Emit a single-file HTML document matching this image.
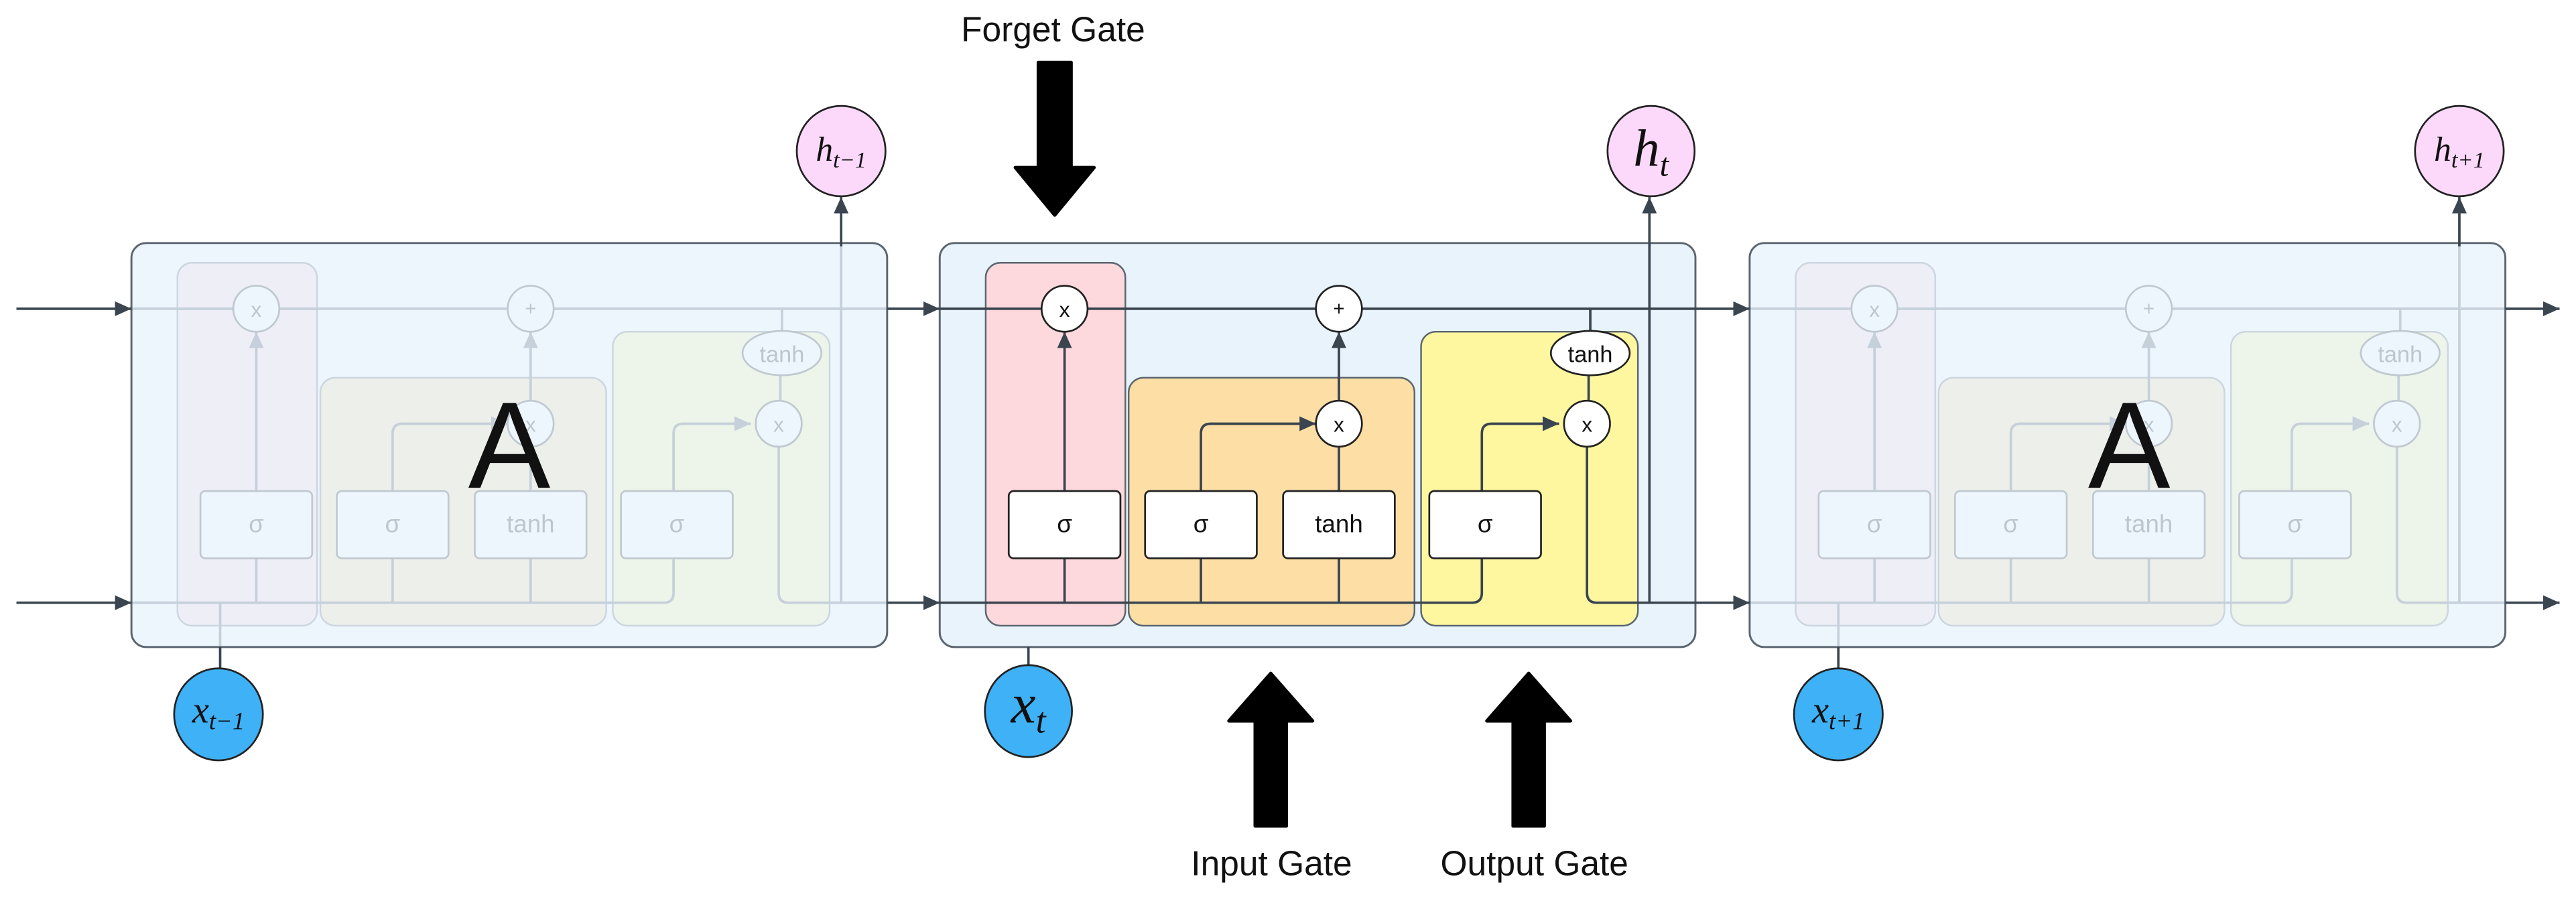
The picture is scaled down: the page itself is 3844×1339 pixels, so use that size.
<!DOCTYPE html>
<html><head><meta charset="utf-8"><style>
html,body{margin:0;padding:0;background:#fff;}
svg{display:block;}
</style></head><body>
<svg width="3844" height="1339" viewBox="0 0 1568 546.2" preserveAspectRatio="none" xmlns="http://www.w3.org/2000/svg">
<defs>
<marker id="ar" markerUnits="userSpaceOnUse" markerWidth="10" markerHeight="10" viewBox="0 0 10 10" refX="10" refY="5" orient="auto"><path d="M0,0.5 L10,5 L0,9.5 Z" fill="#3a4550"/></marker>
</defs>
<rect width="1568" height="546.2" fill="#fff"/>

<!-- middle box -->
<rect x="572" y="148" width="460" height="246" rx="9" fill="#e8f3fc" stroke="#5b6670" stroke-width="1.2"/>

<!-- cell content template drawn three times -->
<g id="mid">
<rect x="600" y="160" width="85" height="221" rx="9" fill="#fdd9dd" stroke="#5b6670" stroke-width="1"/>
<rect x="687" y="230" width="174" height="151" rx="9" fill="#fddfa6" stroke="#5b6670" stroke-width="1"/>
<rect x="865" y="202" width="132" height="179" rx="9" fill="#fef7a0" stroke="#5b6670" stroke-width="1"/>
<g fill="none" stroke="#3a4550" stroke-width="1.5">
<path d="M572 188 H1032"/>
<path d="M572 367 H896 Q902 367 902 361 V264 Q902 258 908 258 H949" marker-end="url(#ar)"/>
<path d="M966 272 V361 Q966 367 972 367 H1032"/>
<path d="M648 340 V367 M731 340 V367 M815 340 V367"/>
<path d="M648 299 V202" marker-end="url(#ar)"/>
<path d="M731 299 V264 Q731 258 737 258 H801" marker-end="url(#ar)"/>
<path d="M815 299 V272"/>
<path d="M815 244 V202" marker-end="url(#ar)"/>
<path d="M968 188 V202 M967 228 V244"/>
<path d="M1004 367 V148"/>
</g>
<g fill="#fff" stroke="#222" stroke-width="1.1">
<circle cx="648" cy="188" r="14"/>
<circle cx="815" cy="188" r="14"/>
<circle cx="815" cy="258" r="14"/>
<circle cx="966" cy="258" r="14"/>
<ellipse cx="968" cy="215" rx="24" ry="13.5"/>
<rect x="614" y="299" width="68" height="41" rx="3"/>
<rect x="697" y="299" width="68" height="41" rx="3"/>
<rect x="781" y="299" width="68" height="41" rx="3"/>
<rect x="870" y="299" width="68" height="41" rx="3"/>
</g>
<g font-family="Liberation Sans, sans-serif" fill="#111" text-anchor="middle">
<text x="648" y="193" font-size="13">x</text>
<text x="815" y="192" font-size="12">+</text>
<text x="815" y="263" font-size="13">x</text>
<text x="966" y="263" font-size="13">x</text>
<text x="968" y="220.5" font-size="14">tanh</text>
<text x="648" y="324" font-size="15">σ</text>
<text x="731" y="324" font-size="15">σ</text>
<text x="815" y="324" font-size="15">tanh</text>
<text x="904" y="324" font-size="15">σ</text>
</g>
</g>

<g transform="translate(-492,0)">
<rect x="600" y="160" width="85" height="221" rx="9" fill="#fdd9dd" stroke="#5b6670" stroke-width="1"/>
<rect x="687" y="230" width="174" height="151" rx="9" fill="#fddfa6" stroke="#5b6670" stroke-width="1"/>
<rect x="865" y="202" width="132" height="179" rx="9" fill="#fef7a0" stroke="#5b6670" stroke-width="1"/>
<g fill="none" stroke="#3a4550" stroke-width="1.5">
<path d="M572 188 H1032"/>
<path d="M572 367 H896 Q902 367 902 361 V264 Q902 258 908 258 H949" marker-end="url(#ar)"/>
<path d="M966 272 V361 Q966 367 972 367 H1032"/>
<path d="M648 340 V367 M731 340 V367 M815 340 V367"/>
<path d="M648 299 V202" marker-end="url(#ar)"/>
<path d="M731 299 V264 Q731 258 737 258 H801" marker-end="url(#ar)"/>
<path d="M815 299 V272"/>
<path d="M815 244 V202" marker-end="url(#ar)"/>
<path d="M968 188 V202 M967 228 V244"/>
<path d="M626 367 V394"/>
</g>
<g fill="#fff" stroke="#222" stroke-width="1.1">
<circle cx="648" cy="188" r="14"/><circle cx="815" cy="188" r="14"/><circle cx="815" cy="258" r="14"/><circle cx="966" cy="258" r="14"/>
<ellipse cx="968" cy="215" rx="24" ry="13.5"/>
<rect x="614" y="299" width="68" height="41" rx="3"/><rect x="697" y="299" width="68" height="41" rx="3"/><rect x="781" y="299" width="68" height="41" rx="3"/><rect x="870" y="299" width="68" height="41" rx="3"/>
</g>
<g font-family="Liberation Sans, sans-serif" fill="#111" text-anchor="middle">
<text x="648" y="193" font-size="13">x</text><text x="815" y="192" font-size="12">+</text><text x="815" y="263" font-size="13">x</text><text x="966" y="263" font-size="13">x</text>
<text x="968" y="220.5" font-size="14">tanh</text>
<text x="648" y="324" font-size="15">σ</text><text x="731" y="324" font-size="15">σ</text><text x="815" y="324" font-size="15">tanh</text><text x="904" y="324" font-size="15">σ</text>
</g>
</g>

<g transform="translate(493,0)">
<rect x="600" y="160" width="85" height="221" rx="9" fill="#fdd9dd" stroke="#5b6670" stroke-width="1"/>
<rect x="687" y="230" width="174" height="151" rx="9" fill="#fddfa6" stroke="#5b6670" stroke-width="1"/>
<rect x="865" y="202" width="132" height="179" rx="9" fill="#fef7a0" stroke="#5b6670" stroke-width="1"/>
<g fill="none" stroke="#3a4550" stroke-width="1.5">
<path d="M572 188 H1032"/>
<path d="M572 367 H896 Q902 367 902 361 V264 Q902 258 908 258 H949" marker-end="url(#ar)"/>
<path d="M966 272 V361 Q966 367 972 367 H1032"/>
<path d="M648 340 V367 M731 340 V367 M815 340 V367"/>
<path d="M648 299 V202" marker-end="url(#ar)"/>
<path d="M731 299 V264 Q731 258 737 258 H801" marker-end="url(#ar)"/>
<path d="M815 299 V272"/>
<path d="M815 244 V202" marker-end="url(#ar)"/>
<path d="M968 188 V202 M967 228 V244"/>
<path d="M626 367 V394"/>
</g>
<g fill="#fff" stroke="#222" stroke-width="1.1">
<circle cx="648" cy="188" r="14"/><circle cx="815" cy="188" r="14"/><circle cx="815" cy="258" r="14"/><circle cx="966" cy="258" r="14"/>
<ellipse cx="968" cy="215" rx="24" ry="13.5"/>
<rect x="614" y="299" width="68" height="41" rx="3"/><rect x="697" y="299" width="68" height="41" rx="3"/><rect x="781" y="299" width="68" height="41" rx="3"/><rect x="870" y="299" width="68" height="41" rx="3"/>
</g>
<g font-family="Liberation Sans, sans-serif" fill="#111" text-anchor="middle">
<text x="648" y="193" font-size="13">x</text><text x="815" y="192" font-size="12">+</text><text x="815" y="263" font-size="13">x</text><text x="966" y="263" font-size="13">x</text>
<text x="968" y="220.5" font-size="14">tanh</text>
<text x="648" y="324" font-size="15">σ</text><text x="731" y="324" font-size="15">σ</text><text x="815" y="324" font-size="15">tanh</text><text x="904" y="324" font-size="15">σ</text>
</g>
</g>

<!-- vertical h lines in side cells (semi visible) -->
<g stroke="#3a4550" stroke-width="1.5" fill="none">
<path d="M512 367 V148"/>
<path d="M1497 367 V148"/>
</g>

<!-- side overlays -->
<rect x="80" y="148" width="460" height="246" rx="9" fill="#e8f3fc" fill-opacity="0.8" stroke="#5b6670" stroke-width="1.2"/>
<rect x="1065" y="148" width="460" height="246" rx="9" fill="#e8f3fc" fill-opacity="0.8" stroke="#5b6670" stroke-width="1.2"/>

<!-- outside connectors -->
<g fill="none" stroke="#3a4550" stroke-width="1.5">
<path d="M10 188 H80" marker-end="url(#ar)"/>
<path d="M10 367 H80" marker-end="url(#ar)"/>
<path d="M540 188 H572" marker-end="url(#ar)"/>
<path d="M540 367 H572" marker-end="url(#ar)"/>
<path d="M1032 188 H1065" marker-end="url(#ar)"/>
<path d="M1032 367 H1065" marker-end="url(#ar)"/>
<path d="M1525 188 H1558" marker-end="url(#ar)"/>
<path d="M1525 367 H1558" marker-end="url(#ar)"/>
<path d="M512 150 V120" marker-end="url(#ar)"/>
<path d="M1004 150 V120" marker-end="url(#ar)"/>
<path d="M1497 150 V120" marker-end="url(#ar)"/>
<path d="M134 394 V408"/>
<path d="M626 394 V406"/>
<path d="M1119 394 V408"/>
</g>

<!-- A letters -->
<g font-family="Liberation Sans, sans-serif" fill="#111" text-anchor="middle" font-size="75">
<text x="310" y="297">A</text>
<text x="1296" y="297">A</text>
</g>

<!-- state circles -->
<g stroke="#222" stroke-width="1.1">
<ellipse cx="512" cy="92" rx="27" ry="27.5" fill="#fcd9fa"/>
<ellipse cx="1005" cy="92" rx="26.5" ry="27.5" fill="#fcd9fa"/>
<ellipse cx="1497" cy="92" rx="27" ry="27.5" fill="#fcd9fa"/>
<ellipse cx="133" cy="435" rx="27" ry="28" fill="#3fb1f7"/>
<ellipse cx="626" cy="433" rx="26.5" ry="28" fill="#3fb1f7"/>
<ellipse cx="1119" cy="435" rx="27" ry="28" fill="#3fb1f7"/>
</g>
<g font-family="Liberation Serif, serif" font-style="italic" fill="#111" text-anchor="middle">
<text x="512" y="98" font-size="21">h<tspan font-size="14" dy="4">t−1</tspan></text>
<text x="1005" y="101" font-size="32">h<tspan font-size="20" dy="6">t</tspan></text>
<text x="1497" y="98" font-size="21">h<tspan font-size="14" dy="4">t+1</tspan></text>
<text x="133" y="440" font-size="23">x<tspan font-size="15" dy="4">t−1</tspan></text>
<text x="626" y="440" font-size="34">x<tspan font-size="22" dy="6">t</tspan></text>
<text x="1119" y="440" font-size="23">x<tspan font-size="15" dy="4">t+1</tspan></text>
</g>

<!-- gate arrows -->
<g fill="#000" stroke="#000" stroke-width="2" stroke-linejoin="round">
<path d="M632 38 H652 V102 H666 L642 131 L618 102 H632 Z"/>
<path d="M764 503 H783 V439 H799 L773.5 410 L748 439 H764 Z"/>
<path d="M921 503 H940 V439 H956 L930.5 410 L905 439 H921 Z"/>
</g>
<g font-family="Liberation Sans, sans-serif" fill="#111" text-anchor="middle" font-size="21">
<text x="641" y="25">Forget Gate</text>
<text x="774" y="533">Input Gate</text>
<text x="934" y="533">Output Gate</text>
</g>
</svg>
</body></html>
